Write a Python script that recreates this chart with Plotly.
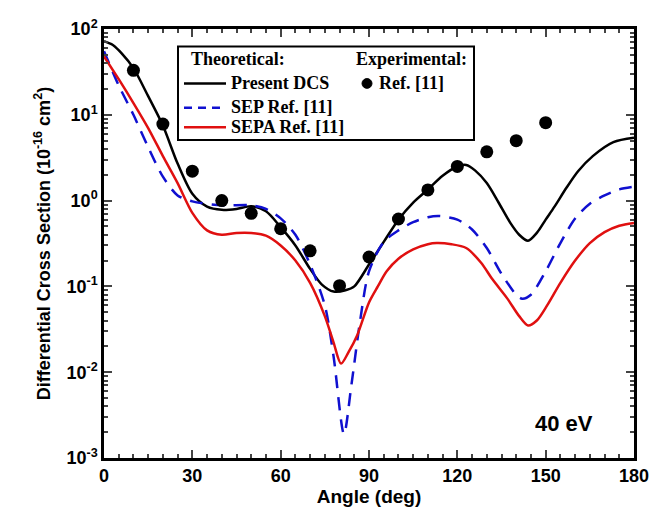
import plotly.graph_objects as go

# Present DCS (black)
dcs_angle = [0, 3, 6, 10, 15, 20, 25, 30, 35, 40, 45, 50, 55, 60, 65, 70, 74, 78, 82, 85, 90, 95, 100, 105, 110, 115, 120, 123, 126, 130, 134, 138, 141, 144, 147, 150, 153, 157, 161, 166, 173, 180]
dcs_val = [72, 65, 52, 35, 16.5, 7.5, 2.7, 1.2, 0.85, 0.78, 0.8, 0.86, 0.75, 0.49, 0.3, 0.16, 0.105, 0.087, 0.09, 0.1, 0.18, 0.33, 0.6, 0.95, 1.35, 1.95, 2.5, 2.6, 2.25, 1.6, 0.95, 0.55, 0.4, 0.34, 0.42, 0.6, 0.85, 1.4, 2.2, 3.3, 4.8, 5.4]

# SEP (blue dashed)
sep_angle = [0, 5, 10, 15, 20, 25, 30, 40, 50, 55, 60, 65, 70, 75, 78, 81.5, 84, 87, 90, 95, 100, 105, 110, 114, 120, 125, 130, 135, 140, 142, 145, 150, 155, 160, 165, 170, 175, 180]
sep_val = [55, 22, 10, 4.2, 1.9, 1.15, 0.98, 0.88, 0.88, 0.8, 0.62, 0.4, 0.18, 0.06, 0.015, 0.0019, 0.007, 0.04, 0.15, 0.33, 0.45, 0.56, 0.64, 0.66, 0.6, 0.46, 0.28, 0.14, 0.08, 0.072, 0.08, 0.15, 0.32, 0.62, 0.92, 1.15, 1.35, 1.45]

# SEPA (red)
sepa_angle = [0, 5, 10, 15, 20, 25, 30, 35, 40, 45, 50, 55, 60, 65, 70, 75, 78, 80.5, 83, 86, 90, 93, 96, 100, 105, 110, 113, 118, 123, 128, 132, 137, 141, 144, 147, 150.5, 155, 160, 165, 170, 175, 180]
sepa_val = [48, 26, 13.7, 7, 3.3, 1.6, 0.72, 0.45, 0.4, 0.42, 0.42, 0.39, 0.3, 0.2, 0.11, 0.045, 0.022, 0.0126, 0.017, 0.027, 0.065, 0.1, 0.15, 0.21, 0.27, 0.31, 0.32, 0.31, 0.28, 0.19, 0.12, 0.072, 0.045, 0.035, 0.04, 0.06, 0.11, 0.2, 0.32, 0.43, 0.51, 0.55]

# Experimental Ref. [11]
exp_angle = [10, 20, 30, 40, 50, 60, 70, 80, 90, 100, 110, 120, 130, 140, 150]
exp_val = [33, 7.8, 2.2, 1.0, 0.71, 0.47, 0.26, 0.102, 0.22, 0.61, 1.33, 2.5, 3.7, 5.0, 8.1]

x_ticks = [0, 30, 60, 90, 120, 150, 180]
y_ticks = [1e-3, 1e-2, 1e-1, 1, 10, 100]
y_ticktext = ["10<sup>-3</sup>", "10<sup>-2</sup>", "10<sup>-1</sup>", "10<sup>0</sup>", "10<sup>1</sup>", "10<sup>2</sup>"]

fig = go.Figure()
fig.add_trace(go.Scatter(x=dcs_angle, y=dcs_val, mode="lines", line=dict(color="black", width=2.5, shape="spline", smoothing=0.8), name="Present DCS"))
fig.add_trace(go.Scatter(x=sep_angle, y=sep_val, mode="lines", line=dict(color="#1010d0", width=2.5, dash="13px,9px", shape="spline", smoothing=0.8), name="SEP Ref. [11]"))
fig.add_trace(go.Scatter(x=sepa_angle, y=sepa_val, mode="lines", line=dict(color="#e01010", width=2.5, shape="spline", smoothing=0.8), name="SEPA Ref. [11]"))
fig.add_trace(go.Scatter(x=exp_angle, y=exp_val, mode="markers", marker=dict(color="black", size=13), name="Ref. [11]"))

tick_font = dict(family="Liberation Sans, Arial", size=18, color="black", weight="bold")
title_font = dict(family="Liberation Sans, Arial", size=18, color="black", weight="bold")

# Page offset (body margin) and figure size
O = 8
W, H = 656, 504
# plot area in page pixels: left 104, right 634, top 17, bottom 458
L, T = 96, 9
R = W - (634 - O)
B = H - (458 - O)

fig.update_layout(
    width=W, height=H,
    margin=dict(l=L, r=R, t=T, b=B),
    paper_bgcolor="white", plot_bgcolor="white",
    showlegend=False,
    xaxis=dict(
        range=[0, 180], tickvals=x_ticks, ticks="inside", ticklen=8, tickwidth=2,
        minor=dict(ticks="inside", ticklen=4, tickwidth=1.5, dtick=5),
        showline=True, linecolor="black", linewidth=2.5, mirror="ticks",
        showgrid=False, zeroline=False, tickfont=tick_font, ticklabeloverflow="allow",
        title=dict(text="Angle (deg)", font=dict(family="Liberation Sans, Arial", size=19, color="black", weight="bold"), standoff=3),
    ),
    yaxis=dict(
        type="log", range=[-3, 2], tickvals=y_ticks, ticktext=y_ticktext,
        ticks="inside", ticklen=8, tickwidth=2,
        minor=dict(ticks="inside", ticklen=4, tickwidth=1.5, dtick="D1"),
        showline=True, linecolor="black", linewidth=2.5, mirror="ticks",
        showgrid=False, zeroline=False, tickfont=tick_font, ticklabeloverflow="allow",
        title=dict(text="Differential Cross Section (10<sup>-16</sup> cm<sup>2</sup>)", font=title_font, standoff=12),
    ),
)

pw, ph = W - L - R, H - T - B

def px(x):
    return (x - O - L) / pw

def py(y):
    return 1 - (y - O - T) / ph

fig.add_shape(type="rect", xref="paper", yref="paper", x0=px(178), x1=px(474), y0=py(35), y1=py(131),
              line=dict(color="black", width=2), fillcolor="white")
leg_font = dict(family="Liberation Serif, Times New Roman", size=18, color="black", weight="bold")
for txt, x, y in [("Theoretical:", 189, 48), ("Experimental:", 354, 48), ("Present DCS", 229, 73),
                  ("SEP Ref. [11]", 229, 97), ("SEPA Ref. [11]", 229, 118), ("Ref. [11]", 377, 73)]:
    fig.add_annotation(xref="paper", yref="paper", x=px(x), y=py(y), text=txt, showarrow=False,
                       xanchor="left", yanchor="middle", font=leg_font)
fig.add_shape(type="line", xref="paper", yref="paper", x0=px(184), x1=px(226), y0=py(73), y1=py(73), line=dict(color="black", width=2.5))
fig.add_shape(type="line", xref="paper", yref="paper", x0=px(184), x1=px(226), y0=py(98), y1=py(98), line=dict(color="#1010d0", width=2.5, dash="8px,6px"))
fig.add_shape(type="line", xref="paper", yref="paper", x0=px(184), x1=px(226), y0=py(118), y1=py(118), line=dict(color="#e01010", width=2.5))
fig.add_shape(type="circle", xref="paper", yref="paper", x0=px(362), x1=px(372), y0=py(68), y1=py(78), fillcolor="black", line=dict(color="black", width=1))

fig.add_annotation(xref="paper", yref="paper", x=px(564), y=py(423), text="40 eV", showarrow=False,
                   xanchor="center", yanchor="middle",
                   font=dict(family="Liberation Sans, Arial", size=22, color="black", weight="bold"))

fig.write_html("out.html")
